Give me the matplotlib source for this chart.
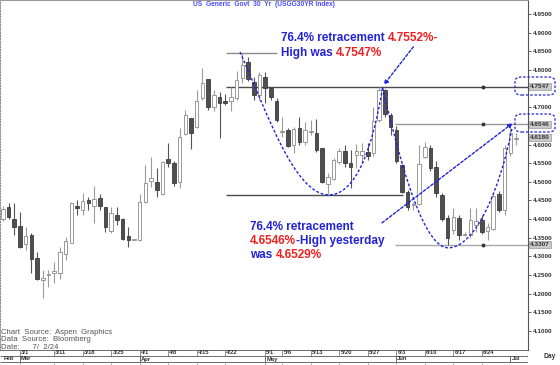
import numpy as np
import pandas as pd
import matplotlib
matplotlib.use('Agg')
import matplotlib.pyplot as plt
from matplotlib.path import Path
from matplotlib.patches import PathPatch, FancyBboxPatch

plt.rcParams['font.family'] = ['Liberation Sans', 'DejaVu Sans']

# daily candles, USGG30YR, 27 Feb - 2 Jul 2024 (all weekdays)
dates = pd.bdate_range('2024-02-27', '2024-07-02')
opens = [4.400, 4.433, 4.400, 4.382, 4.333, 4.357, 4.296, 4.237, 4.250, 4.256,
         4.256, 4.307, 4.337, 4.435, 4.424, 4.451, 4.435, 4.457, 4.433, 4.368,
         4.411, 4.400, 4.355, 4.344, 4.344, 4.446, 4.502, 4.500, 4.467, 4.561,
         4.550, 4.500, 4.628, 4.671, 4.647, 4.725, 4.776, 4.701, 4.727, 4.717,
         4.717, 4.725, 4.778, 4.821, 4.768, 4.733, 4.781, 4.752, 4.717, 4.634,
         4.639, 4.599, 4.644, 4.607, 4.633, 4.631, 4.591, 4.494, 4.508, 4.553,
         4.583, 4.550, 4.572, 4.572, 4.580, 4.578, 4.667, 4.745, 4.679, 4.640,
         4.545, 4.473, 4.438, 4.441, 4.567, 4.591, 4.540, 4.465, 4.403, 4.371,
         4.403, 4.357, 4.357, 4.385, 4.398, 4.368, 4.374, 4.467, 4.425, 4.577,
         4.615]
highs = [4.435, 4.443, 4.443, 4.419, 4.379, 4.363, 4.312, 4.264, 4.264, 4.285,
         4.325, 4.352, 4.446, 4.451, 4.470, 4.459, 4.489, 4.467, 4.433, 4.433,
         4.433, 4.403, 4.379, 4.345, 4.467, 4.545, 4.567, 4.537, 4.556, 4.604,
         4.556, 4.644, 4.693, 4.671, 4.745, 4.805, 4.776, 4.746, 4.740, 4.735,
         4.754, 4.797, 4.846, 4.835, 4.780, 4.795, 4.795, 4.755, 4.725, 4.674,
         4.644, 4.647, 4.674, 4.660, 4.666, 4.669, 4.591, 4.524, 4.564, 4.591,
         4.599, 4.585, 4.601, 4.604, 4.604, 4.700, 4.7547, 4.748, 4.685, 4.650,
         4.548, 4.478, 4.446, 4.600, 4.608, 4.600, 4.555, 4.470, 4.410, 4.430,
         4.410, 4.365, 4.430, 4.430, 4.410, 4.390, 4.470, 4.475, 4.600, 4.6529,
         4.632]
lows = [4.395, 4.400, 4.357, 4.323, 4.317, 4.256, 4.237, 4.189, 4.218, 4.229,
        4.240, 4.290, 4.335, 4.411, 4.411, 4.424, 4.390, 4.424, 4.366, 4.363,
        4.384, 4.345, 4.325, 4.343, 4.340, 4.443, 4.486, 4.459, 4.465, 4.540,
        4.489, 4.483, 4.626, 4.588, 4.645, 4.719, 4.693, 4.690, 4.618, 4.705,
        4.690, 4.720, 4.765, 4.770, 4.720, 4.720, 4.710, 4.720, 4.660, 4.620,
        4.594, 4.577, 4.599, 4.599, 4.626, 4.580, 4.497, 4.4645, 4.505, 4.548,
        4.540, 4.484, 4.537, 4.550, 4.559, 4.570, 4.660, 4.675, 4.626, 4.550,
        4.470, 4.425, 4.425, 4.437, 4.565, 4.530, 4.460, 4.395, 4.3307, 4.360,
        4.345, 4.355, 4.350, 4.365, 4.360, 4.345, 4.370, 4.420, 4.410, 4.570,
        4.600]
closes = [4.427, 4.406, 4.379, 4.325, 4.355, 4.293, 4.240, 4.242, 4.253, 4.261,
          4.312, 4.341, 4.443, 4.430, 4.449, 4.443, 4.454, 4.435, 4.379, 4.417,
          4.398, 4.347, 4.344, 4.344, 4.446, 4.497, 4.510, 4.478, 4.553, 4.550,
          4.497, 4.620, 4.679, 4.631, 4.717, 4.765, 4.701, 4.733, 4.711, 4.711,
          4.727, 4.773, 4.813, 4.776, 4.733, 4.786, 4.752, 4.727, 4.666, 4.637,
          4.596, 4.642, 4.607, 4.639, 4.635, 4.585, 4.500, 4.513, 4.559, 4.583,
          4.550, 4.540, 4.583, 4.583, 4.569, 4.664, 4.745, 4.682, 4.647, 4.555,
          4.473, 4.433, 4.441, 4.548, 4.594, 4.537, 4.470, 4.400, 4.350, 4.406,
          4.357, 4.360, 4.398, 4.395, 4.366, 4.379, 4.462, 4.425, 4.591, 4.631,
          4.618]

day_labels = ['3/1', '3/11', '3/18', '3/25', '4/1', '4/8', '4/15', '4/22', '5/1',
              '5/6', '5/13', '5/20', '5/27', '6/3', '6/10', '6/17', '6/24']
month_labels = ['Feb', 'Mar', 'Apr', 'May', 'Jun', 'Jul']
axis_ticks = [4.10, 4.15, 4.20, 4.25, 4.30, 4.35, 4.40, 4.45, 4.50, 4.55,
              4.60, 4.70, 4.80, 4.85, 4.90, 4.95]
marked_levels = [4.7547, 4.6546, 4.6180, 4.3307]

# reference levels: (price, start index, end index, colour)
ref_lines = [(4.846, 39.1, 48.1, '#8a8a8a'), (4.7547, 39.1, 93, '#4a4a4a'),
             (4.6546, 68.8, 93, '#9a9a9a'), (4.4645, 39.1, 70.2, '#4a4a4a'),
             (4.3307, 68.8, 93, '#a8a8a8')]

# hand-drawn dashed curves (cubic bezier anchors, index/price)
curve1 = [(41.6, 4.848), (46.5, 4.679), (51.2, 4.465), (57.2, 4.465),
          (61.8, 4.465), (64.8, 4.585), (66.6, 4.752)]
curve2 = [(66.6, 4.752), (68.8, 4.612), (73.2, 4.323), (78.1, 4.323),
          (82.8, 4.323), (87.2, 4.478), (89.3, 4.644)]

W, H = 560, 365
fig = plt.figure(figsize=(W / 100, H / 100), dpi=100)
ax = fig.add_axes([0, 15 / H, 528 / W, 350 / H])

x = np.arange(len(dates))
o = np.array(opens); c = np.array(closes)
up = c >= o
body_lo = np.minimum(o, c)
body_h = np.maximum(np.abs(c - o), 0.0015)
wick_col = np.where(up, '#9c9c9c', '#555555')
ax.vlines(x, lows, highs, colors=wick_col, lw=0.8, zorder=2)
ax.bar(x, body_h, bottom=body_lo, width=0.62,
       color=np.where(up, 'white', '#4f4f4f'),
       edgecolor=np.where(up, '#8a8a8a', '#3c3c3c'), linewidth=0.6, zorder=3)

for lvl, x0, x1, col in ref_lines:
    ax.hlines(lvl, x0, x1, colors=col, lw=1.0, zorder=1)
ax.plot([84.2] * 3, [4.7547, 4.6546, 4.3307], 'o', ms=1.8, color='#333333', zorder=4)

blue = '#2323d6'
red = '#f02020'
codes = [Path.MOVETO] + [Path.CURVE4] * 6
for pts in (curve1, curve2):
    ax.add_patch(PathPatch(Path(pts, codes), fill=False, edgecolor=blue,
                           lw=1.0, linestyle=(0, (2, 1.4)), zorder=5))

arrow = dict(arrowstyle='-|>', color=blue, lw=1.0, linestyle=(0, (2, 1.4)),
             mutation_scale=6, shrinkA=0, shrinkB=0)
ax.annotate('', xy=(66.8, 4.760), xytext=(72.0, 4.862), arrowprops=arrow, zorder=5)
ax.annotate('', xy=(89.4, 4.657), xytext=(66.5, 4.390), arrowprops=arrow, zorder=5)

ax.set_xlim(-0.5, 92.1)
ax.set_ylim(4.049, 4.9875)
ax.set_xticks([])
ax.yaxis.tick_right()
ax.set_yticks(axis_ticks)
ax.set_yticklabels([f'{v:.4f}' for v in axis_ticks], fontsize=4.6,
                   fontweight='bold', color='#333333')
ax.tick_params(axis='y', length=2.5, width=0.6, pad=1.2, color='#444444')
ax.spines['right'].set_color('#555555')
ax.spines['right'].set_linewidth(0.8)
ax.spines['top'].set_color('#999999')
ax.spines['left'].set_color('#888888')
ax.spines['left'].set_linestyle((0, (1, 1.5)))
ax.spines['bottom'].set_visible(False)

for lvl in marked_levels:
    ax.annotate(f'{lvl:.4f}', xy=(1.004, lvl), xycoords=('axes fraction', 'data'),
                fontsize=4.6, fontweight='bold', color='#333333', va='center',
                ha='left', annotation_clip=False,
                bbox=dict(boxstyle='square,pad=0.15', fc='#c9c9c9', ec='#888888', lw=0.4))

for y0, y1 in ((77, 95), (114, 132)):
    fig.add_artist(FancyBboxPatch((515 / W, 1 - y1 / H), 40 / W, (y1 - y0) / H,
                                  boxstyle='round,pad=0,rounding_size=0.012',
                                  transform=fig.transFigure, fill=False,
                                  edgecolor=blue, lw=0.9, linestyle=(0, (2, 1.4))))


def colored_line(px, py, parts, size=8.5):
    prev = None
    for txt, col in parts:
        if prev is None:
            prev = fig.text(px / W, 1 - py / H, txt, color=col, fontsize=size,
                            fontweight='bold', va='center', ha='left')
        else:
            prev = ax.annotate(txt, xy=(1, 0), xycoords=prev, va='bottom',
                               ha='left', color=col, fontsize=size,
                               fontweight='bold', annotation_clip=False)


colored_line(281, 38, [('76.4% retracement ', blue), ('4.7552%-', red)])
colored_line(281, 53, [('High was ', blue), ('4.7547%', red)])
colored_line(250, 227, [('76.4% retracement', blue)])
colored_line(250, 241, [('4.6546%', red), ('-High yesterday', blue)])
colored_line(250, 255, [('was ', blue), ('4.6529%', red)])

fig.text(193 / W, 1 - 5 / H, 'US  Generic  Govt  30  Yr  (USGG30YR Index)',
         color='#4a4aff', fontsize=4.8, fontweight='bold', va='center', ha='left')
for i, s in enumerate(['Chart  Source:  Aspen  Graphics', 'Data  Source:  Bloomberg',
                       'Date:      7/  2/24']):
    fig.text(1 / W, 1 - (332 + 7.6 * i) / H, s, color='#555555', fontsize=5.6,
             va='center', ha='left')

# date strip
ax2 = fig.add_axes([0, 0, 528 / W, 15 / H])
ax2.set_xlim(ax.get_xlim())
ax2.set_ylim(0, 15)
ax2.axis('off')
ax2.hlines([14.8, 9, 3], -0.5, 92.1, colors='#555555', lw=0.6)
ax2.vlines(92.05, 3, 15, colors='#555555', lw=0.8)
pos = {f'{d.month}/{d.day}': k for k, d in enumerate(dates)}
for lab in day_labels:
    k = pos[lab]
    ax2.vlines(k, 9, 15, colors='#666666', lw=0.5)
    ax2.vlines(k, 0, 3, colors='#999999', lw=0.5)
    ax2.text(k + 0.2, 12, lab, fontsize=4.2, fontweight='bold', color='#333333',
             va='center', ha='left')
month_pos = [0, pos['3/1'], pos['4/1'], pos['5/1'], pos['6/3'], pos['7/1']]
for lab, k in zip(month_labels, month_pos):
    if k > 0:
        ax2.vlines(k, 3, 9, colors='#555555', lw=0.6)
    ax2.text(k + 0.2, 6, lab, fontsize=4.2, fontweight='bold', color='#333333',
             va='center', ha='left')
fig.text(543 / W, 1 - 357 / H, 'Day', fontsize=4.8, fontweight='bold',
         color='#333333', va='center', ha='left')

fig.savefig('out.png', dpi=100)
